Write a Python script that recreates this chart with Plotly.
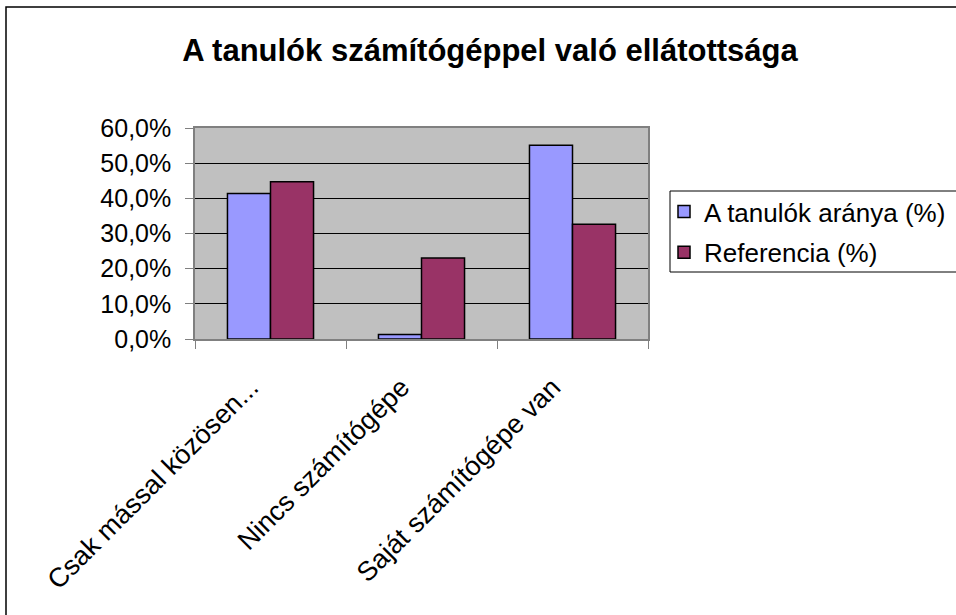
import plotly.graph_objects as go

categories = ["Csak mással közösen...", "Nincs számítógépe", "Saját számítógépe van"]
tanulok = [41.4, 1.3, 55.1]
referencia = [44.7, 23.0, 32.6]
series_names = ["A tanulók aránya (%)", "Referencia (%)"]
title_text = "A tanulók számítógéppel való ellátottsága"
y_ticks = [0, 10, 20, 30, 40, 50, 60]
y_tick_labels = ["0,0%", "10,0%", "20,0%", "30,0%", "40,0%", "50,0%", "60,0%"]

W, H = 956, 615
L, R, T, B = 195, 648, 128, 339  # plot area pixel edges

def px_x(x):
    return (x - L) / (R - L)

def px_y(y):
    return (B - y) / (B - T)

FONT = "Liberation Sans, Arial, sans-serif"

fig = go.Figure()
fig.add_trace(go.Bar(
    x=categories, y=tanulok, name=series_names[0],
    marker=dict(color="#9999FF", line=dict(color="black", width=1.5)),
    legendgroup="a",
))
fig.add_trace(go.Bar(
    x=categories, y=referencia, name=series_names[1],
    marker=dict(color="#993366", line=dict(color="black", width=1.5)),
    legendgroup="b",
))

shapes = [
    # outer chart border (top and left visible)
    dict(type="rect", xref="paper", yref="paper",
         x0=px_x(6), x1=px_x(W + 20), y0=px_y(H + 20), y1=px_y(7),
         line=dict(color="black", width=1.5), fillcolor="rgba(0,0,0,0)", layer="below"),
    # legend box
    dict(type="rect", xref="paper", yref="paper",
         x0=px_x(670), x1=px_x(W + 20), y0=px_y(272), y1=px_y(191),
         line=dict(color="black", width=1), fillcolor="rgba(0,0,0,0)"),
]

fig.update_layout(
    width=W, height=H,
    margin=dict(l=L, r=W - R, t=T, b=H - B, autoexpand=False),
    paper_bgcolor="white",
    plot_bgcolor="#C0C0C0",
    font=dict(family=FONT, size=25, color="black"),
    title=dict(text="<b>" + title_text + "</b>", x=490 / W, xref="container", xanchor="center",
               y=1 - 50 / H, yanchor="middle",
               font=dict(family=FONT, size=31, color="black")),
    barmode="group",
    bargap=0.43,
    bargroupgap=0,
    showlegend=True,
    legend=dict(x=px_x(664), y=px_y(188), xanchor="left", yanchor="top",
                font=dict(family=FONT, size=26, color="black"),
                bgcolor="rgba(0,0,0,0)", borderwidth=0,
                traceorder="grouped", tracegroupgap=4,
                itemwidth=30),
    shapes=shapes,
)
fig.update_yaxes(
    range=[0, 60], tickvals=y_ticks, ticktext=y_tick_labels,
    showgrid=True, gridcolor="black", gridwidth=1,
    showline=True, linecolor="#808080", linewidth=1.5, mirror=True,
    ticks="outside", ticklen=8, tickcolor="#808080", tickwidth=1,
    ticklabelstandoff=9, zeroline=False,
    tickfont=dict(family=FONT, size=25, color="black"),
)
fig.update_xaxes(
    type="category", tickson="boundaries",
    showgrid=False,
    showline=True, linecolor="#808080", linewidth=1.5, mirror=True,
    ticks="outside", ticklen=8, tickcolor="#808080", tickwidth=1,
    tickangle=-45, ticklabelstandoff=20, ticklabelshift=-20,
    tickfont=dict(family=FONT, size=27, color="black"),
)

fig.write_html("out.html", config={"displayModeBar": False},
               post_script="document.body.style.margin='0';document.body.style.overflow='hidden';")
